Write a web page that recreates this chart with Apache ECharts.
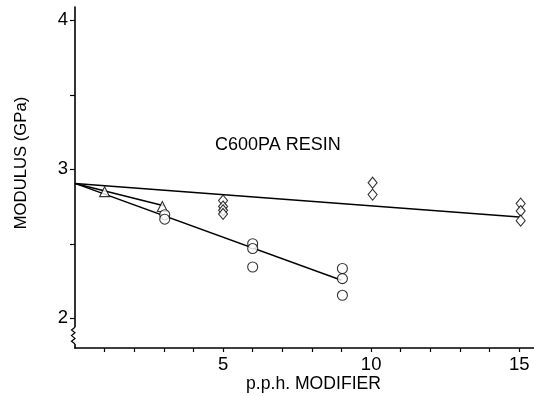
<!DOCTYPE html>
<html>
<head>
<meta charset="utf-8">
<script src="https://cdn.jsdelivr.net/npm/echarts@6/dist/echarts.min.js"></script>
<style>html,body{margin:0;padding:0;background:#fff}#c{width:534px;height:396px}</style>
</head>
<body>
<div id="c"></div>
<script>
// ---- data ----
var xTickValues = [1,2,3,4,5,6,7,8,9,10,11,12,13,14,15];
var xLabelValues = [5,10,15];
var yTickValues = [2,2.5,3,3.5,4];
var yLabelValues = [2,3,4];

var diamondFit = [[0,2.905],[15,2.68]];
var circleFit = [[0,2.905],[9,2.255]];
var triangleFit = [[0,2.905],[3,2.755]];

var triangles = [[1,2.85],[2.95,2.75]];
var circles = [[3.03,2.695],[3.03,2.665],[6,2.50],[6,2.468],[6,2.344],[9.03,2.334],[9.03,2.266],[9.03,2.154]];
var diamonds = [[5,2.79],[5,2.75],[5,2.725],[5,2.70],[10.05,2.91],[10.05,2.83],[15.05,2.77],[15.05,2.72],[15.05,2.655]];

var annotation = 'C600PA RESIN';
var xTitle = 'p.p.h. MODIFIER';
var yTitle = 'MODULUS (GPa)';

var chart = echarts.init(document.getElementById('c'), null, {renderer:'canvas'});
var FONT = '"Liberation Sans", Arial, Helvetica, sans-serif';
var lineStyle = {color:'#000', width:1.4};
var mk = {color:'#fff', borderColor:'#000', borderWidth:1.1};

function fit(d){ return {type:'line', data:d, symbol:'none', lineStyle:lineStyle, z:2, silent:true}; }
function pts(d, sym, size){ return {type:'scatter', data:d, symbol:sym, symbolSize:size, itemStyle:mk, z:3, silent:true}; }

var diamondPath = 'path://M0,-5L4,0L0,5L-4,0Z';

chart.setOption({
  animation:false,
  backgroundColor:'#fff',
  grid:{left:75, right:0, top:7, bottom:48, containLabel:false},
  xAxis:{
    type:'value', min:0, max:15.5,
    axisLine:{show:true, onZero:false, lineStyle:{color:'#000', width:1.6}},
    axisTick:{show:true, customValues:xTickValues, length:4, lineStyle:{color:'#000', width:1.2}},
    axisLabel:{customValues:xLabelValues, color:'#000', fontFamily:FONT, fontSize:18.5, margin:7},
    splitLine:{show:false}
  },
  yAxis:{
    type:'value', min:1.8, max:4.09,
    axisLine:{show:true, onZero:false, lineStyle:{color:'#000', width:1.6}},
    axisTick:{show:true, customValues:yTickValues, length:5, lineStyle:{color:'#000', width:1.2}},
    axisLabel:{customValues:yLabelValues, color:'#000', fontFamily:FONT, fontSize:18.5, margin:7},
    splitLine:{show:false}
  },
  series:[
    fit(diamondFit), fit(circleFit), fit(triangleFit),
    pts(triangles, 'triangle', 10),
    pts(circles, 'circle', 10),
    pts(diamonds, diamondPath, [9,11])
  ]
});

// decorations: axis-break squiggle, titles, annotation
var p2 = chart.convertToPixel({gridIndex:0}, [0,2]);
var p0 = chart.convertToPixel({gridIndex:0}, [0,1.8]);
var ax = p0[0];
var y1 = p2[1] + 9, y2 = p0[1] - 4;
var zz = [];
var n = 6;
for (var i=0;i<=n;i++){ zz.push([ax + (i%2===0 ? 0 : -3.5), y1 + (y2-y1)*i/n]); }
zz[0][0]=ax; zz[n][0]=ax;

chart.setOption({
  graphic:[
    {type:'rect', shape:{x:ax-1.5, y:y1, width:3, height:y2-y1}, style:{fill:'#fff'}, z:50},
    {type:'polyline', shape:{points:zz}, style:{stroke:'#000', lineWidth:1.2, fill:null}, z:51},
    {type:'text', x:215, y:145, style:{text:annotation, font:'18px '+FONT, fill:'#000', textAlign:'left', textVerticalAlign:'middle'}, z:60},
    {type:'text', x:313.5, y:384, style:{text:xTitle, font:'17.6px '+FONT, fill:'#000', textAlign:'center', textVerticalAlign:'middle'}, z:60},
    {type:'text', x:21, y:163, rotation:Math.PI/2, style:{text:yTitle, font:'16.7px '+FONT, fill:'#000', textAlign:'center', textVerticalAlign:'middle'}, z:60}
  ]
});
</script>
</body>
</html>
